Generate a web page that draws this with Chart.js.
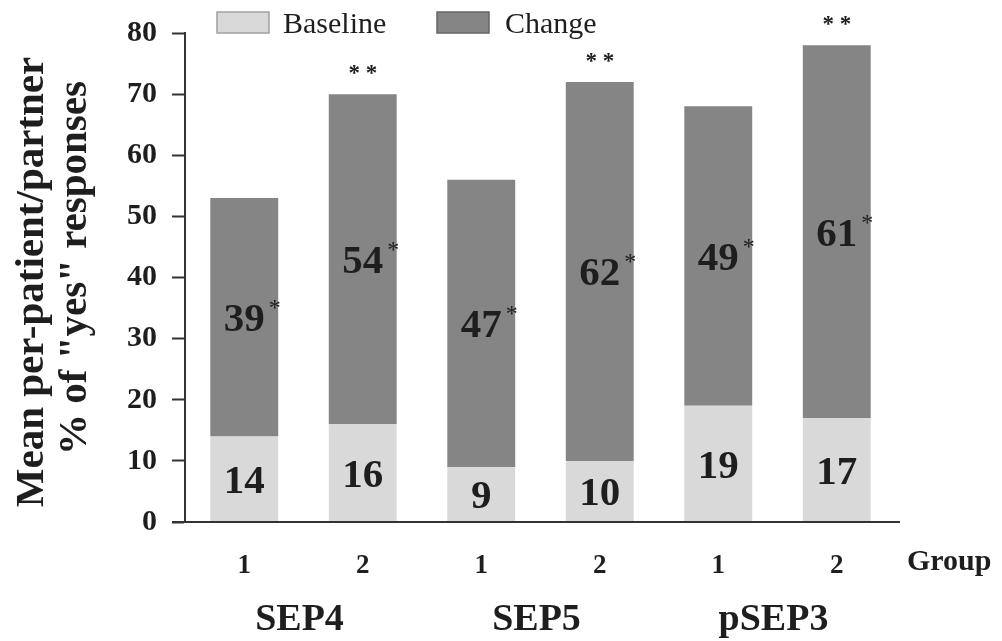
<!DOCTYPE html>
<html>
<head>
<meta charset="utf-8">
<script src="https://cdn.jsdelivr.net/npm/chart.js@4/dist/chart.umd.min.js"></script>
<style>
    html, body { margin: 0; padding: 0; background: #fff; }
    #wrap { width: 1002px; height: 641px; position: relative; }
</style>
</head>
<body>
<div id="wrap"><canvas id="yesChart"></canvas></div>
<script>
// Chart data
const groupLabels = ['1', '2', '1', '2', '1', '2'];
const measureLabels = ['SEP4', 'SEP5', 'pSEP3'];
const baselineValues = [14, 16, 9, 10, 19, 17];
const changeValues = [39, 54, 47, 62, 49, 61];
const changeStar = [true, true, true, true, true, true];   // small * next to change value
const totalStars = [false, true, false, true, false, true]; // ** above the bar
const yTitleLines = ['Mean per-patient/partner', '% of "yes" responses'];

const SERIF = '"Liberation Serif", "Times New Roman", serif';
const INK = '#1e1e1e';
const AXIS = '#333333';

// Draw labels, legend, titles and the long x axis line
const decorations = {
    id: 'decorations',
    afterDatasetsDraw(chart) {
        const ctx = chart.ctx;
        const area = chart.chartArea;
        const xScale = chart.scales.x;
        const baseMeta = chart.getDatasetMeta(0);
        const changeMeta = chart.getDatasetMeta(1);

        ctx.save();
        ctx.fillStyle = INK;

        // x axis line (extends left of the y axis)
        ctx.strokeStyle = AXIS;
        ctx.lineWidth = 2;
        ctx.beginPath();
        ctx.moveTo(172, area.bottom);
        ctx.lineTo(area.right + 4, area.bottom);
        ctx.stroke();

        // values inside bars
        ctx.textAlign = 'center';
        ctx.textBaseline = 'alphabetic';
        ctx.font = 'bold 41px ' + SERIF;
        baseMeta.data.forEach((bar, i) => {
            const mid = (bar.y + bar.base) / 2;
            ctx.fillText(String(baselineValues[i]), bar.x, mid + 14);
        });
        changeMeta.data.forEach((bar, i) => {
            const mid = (bar.y + bar.base) / 2;
            const txt = String(changeValues[i]);
            ctx.font = 'bold 41px ' + SERIF;
            ctx.textAlign = 'center';
            const y = mid + 14;
            ctx.fillText(txt, bar.x, y);
            if (changeStar[i]) {
                const w = ctx.measureText(txt).width;
                ctx.font = '24px ' + SERIF;
                ctx.textAlign = 'left';
                ctx.fillText('*', bar.x + w / 2 + 4, y - 16);
            }
            if (totalStars[i]) {
                ctx.font = 'bold 23px ' + SERIF;
                ctx.textAlign = 'center';
                ctx.fillText('* *', bar.x, bar.y - 14);
            }
        });

        // group (measure) labels under the tick labels
        ctx.font = 'bold 38px ' + SERIF;
        ctx.textAlign = 'center';
        measureLabels.forEach((m, k) => {
            const x1 = xScale.getPixelForValue(k * 2);
            const x2 = xScale.getPixelForValue(k * 2 + 1);
            ctx.fillText(m, (x1 + x2) / 2 - 4, 630);
        });

        // "Group" caption at the right end of the tick row
        ctx.font = 'bold 30px ' + SERIF;
        ctx.textAlign = 'left';
        ctx.fillText('Group', 907, 570);

        // y axis title, two rotated lines
        ctx.font = 'bold 41px ' + SERIF;
        ctx.textAlign = 'center';
        const titleX = [43, 86];
        const titleY = [282, 268];
        yTitleLines.forEach((line, i) => {
            ctx.save();
            ctx.translate(titleX[i], titleY[i]);
            ctx.rotate(-Math.PI / 2);
            ctx.fillText(line, 0, 0);
            ctx.restore();
        });

        // legend
        const legendItems = [
            { text: chart.data.datasets[0].label, color: chart.data.datasets[0].backgroundColor, edge: '#a0a0a0', x: 217, tx: 283 },
            { text: chart.data.datasets[1].label, color: chart.data.datasets[1].backgroundColor, edge: '#666666', x: 437, tx: 505 }
        ];
        ctx.font = '30px ' + SERIF;
        ctx.textAlign = 'left';
        legendItems.forEach(item => {
            ctx.fillStyle = item.color;
            ctx.strokeStyle = item.edge;
            ctx.lineWidth = 1.5;
            ctx.fillRect(item.x, 12, 52, 21);
            ctx.strokeRect(item.x, 12, 52, 21);
            ctx.fillStyle = INK;
            ctx.fillText(item.text, item.tx, 33);
        });

        ctx.restore();
    }
};

function initChart() {
    const ctx = document.getElementById('yesChart').getContext('2d');
    new Chart(ctx, {
        type: 'bar',
        data: {
            labels: groupLabels,
            datasets: [{
                label: 'Baseline',
                data: baselineValues,
                backgroundColor: '#d9d9d9',
                borderWidth: 0
            }, {
                label: 'Change',
                data: changeValues,
                backgroundColor: '#858585',
                borderWidth: 0
            }]
        },
        options: {
            responsive: true,
            maintainAspectRatio: false,
            animation: false,
            barPercentage: 0.573,
            categoryPercentage: 1.0,
            layout: {
                padding: { top: 28, right: 106, left: 0, bottom: 0 }
            },
            plugins: {
                legend: { display: false },
                tooltip: { enabled: false }
            },
            scales: {
                x: {
                    stacked: true,
                    grid: { display: false },
                    border: { display: false },
                    ticks: {
                        color: INK,
                        padding: 20,
                        font: { family: SERIF, size: 27, weight: 'bold' }
                    },
                    afterFit(scale) { scale.height = 119; }
                },
                y: {
                    stacked: true,
                    min: 0,
                    max: 80,
                    ticks: {
                        stepSize: 10,
                        color: INK,
                        padding: 15,
                        font: { family: SERIF, size: 30, weight: 'bold' }
                    },
                    grid: {
                        drawOnChartArea: false,
                        drawTicks: true,
                        tickLength: 13,
                        tickColor: AXIS,
                        tickWidth: 2
                    },
                    border: { display: true, color: AXIS, width: 2 },
                    afterFit(scale) { scale.width = 185; }
                }
            }
        },
        plugins: [decorations]
    });
}

document.addEventListener('DOMContentLoaded', initChart);
</script>
</body>
</html>
